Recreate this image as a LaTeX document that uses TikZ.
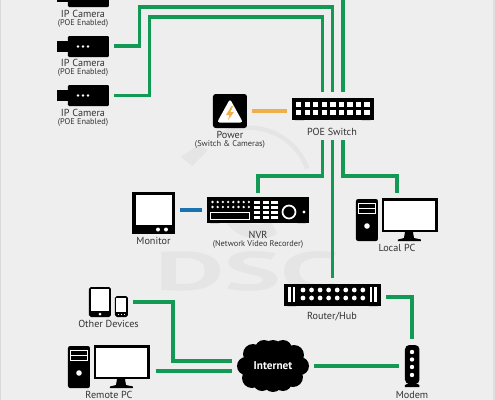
\documentclass[tikz,border=0pt]{standalone}
\usepackage{fontspec}
\setmainfont{PT Sans}
\definecolor{WireGreen}{HTML}{129A55}
\definecolor{WireOrange}{HTML}{F0AE4C}
\definecolor{WireBlue}{HTML}{1B72B0}
\definecolor{PageGrey}{HTML}{EEEEEE}
\definecolor{MarkGrey}{HTML}{E5E5E5}
\definecolor{LabelGrey}{HTML}{333333}
\usetikzlibrary{shapes.geometric, calc}
\tikzset{
  wire/.style={line width=1.85pt, WireGreen},
  label/.style={font=\fontsize{5.8}{6}\selectfont, text=LabelGrey, inner sep=0pt},
  sublabel/.style={font=\fontsize{4.75}{5}\selectfont, text=LabelGrey, inner sep=0pt},
  pics/ipcamera/.style={code={
    \fill[black, rounded corners=0.6pt] (0,0) rectangle (41,21);
    \fill[black] (-11,5) rectangle (0,16);
    \foreach \dotx in {10,15,20}
      \fill[white] (\dotx,10.5) circle (1.4);
  }},
  pics/desktop/.style={code={
    % tower
    \fill[black, rounded corners=1.2pt] (0,0) rectangle (22,42);
    \draw[white, line width=0.4pt] (2.5,4) rectangle (19.5,14) (2.5,9) -- (19.5,9);
    \fill[white] (11,27) circle (2.8);
    % screen and stand
    \fill[black] (26,-1) rectangle (82,33);
    \fill[white] (28.5,2) rectangle (79.5,31);
    \fill[black] (49,33) -- (57,33) -- (58,39) -- (65,40.5) -- (65,42) -- (42,42) -- (42,40.5) -- (48,39) -- cycle;
  }},
}
\begin{document}
\begin{tikzpicture}[x=0.02cm, y=-0.02cm]
  \useasboundingbox (0,0) rectangle (495,400);
  \fill[PageGrey] (0,0) rectangle (495,400);
  \fill[black!15] (0,0) rectangle (1.5,400);
  \fill[black!12] (493.5,0) rectangle (495,400);
  % Watermark
  \begin{scope}[MarkGrey]
    \node[font=\fontsize{31}{31}\selectfont\bfseries, inner sep=0pt, xscale=1.96, text=MarkGrey] (markdsc) at (248,271) {DSC};
    \fill (181,157) -- (198,145) -- (208,150) -- (192,166) -- cycle;
    \draw[line width=8pt] (226,197) arc[start angle=185, end angle=60, radius=32];
    \draw[line width=2.5pt] (218,136) arc[start angle=-120, end angle=-20, radius=62];
  \end{scope}
  % Cameras
  \pic at (68,-14) {ipcamera};
  \pic at (68,36) {ipcamera};
  \pic at (68,85) {ipcamera};
  \node[label] (camlabela) at (83,14) {IP Camera};
  \node[sublabel] (camsuba) at (83,23) {(POE Enabled)};
  \node[label] (camlabelb) at (83,63) {IP Camera};
  \node[sublabel] (camsubb) at (83,72) {(POE Enabled)};
  \node[label] (camlabelc) at (83,113) {IP Camera};
  \node[sublabel] (camsubc) at (83,122) {(POE Enabled)};
  % POE switch
  \fill[black] (292,98) rectangle (374,120);
  \fill[black] (295,120) arc[start angle=180, end angle=360, radius=4.5] -- cycle;
  \fill[black] (362,120) arc[start angle=180, end angle=360, radius=4.5] -- cycle;
  \foreach \i in {0,...,8} {
    \fill[white] ({296+\i*8.55},101.5) rectangle +(5.4,5.4);
    \fill[white] ({296+\i*8.55},109.5) rectangle +(5.4,5.4);
  }
  \node[label] (switchlabel) at (332,132) {POE Switch};
  % Power
  \fill[black, rounded corners=1.5pt] (213,94) rectangle (247,128);
  \fill[white, rounded corners=1.5pt] (230,99) -- (243,122.5) -- (217,122.5) -- cycle;
  \fill[WireOrange] (231.5,106) -- (226,115) -- (229.5,115) -- (228,120) -- (234,112) -- (230.5,112) -- (233,106) -- cycle;
  \node[label] (powerlabel) at (230,135) {Power};
  \node[sublabel] (powersub) at (230,144) {(Switch \& Cameras)};
  % NVR
  \fill[black] (207,197) rectangle (309,223);
  \fill[black] (210.5,223) arc[start angle=180, end angle=360, radius=4.5] -- cycle;
  \fill[black] (297.5,223) arc[start angle=180, end angle=360, radius=4.5] -- cycle;
  \foreach \i in {0,...,7} {
    \fill[white] ({212.5+\i*5.2},202) circle (1.3);
    \fill[white] ({212.5+\i*5.2},207) circle (1.3);
  }
  \draw[white, line width=0.4pt] (210.5,212.5) rectangle (249,219);
  \foreach \i in {0,1,2}
    \foreach \j in {0,1,2,3}
      \fill[white] ({254+\i*8.6},{201+\j*5}) rectangle +(6.5,3.3);
  \draw[white, line width=1pt] (289,212) circle (6.5);
  \fill[white] (304,212) circle (1.6);
  \node[label] (nvrlabel) at (258,235) {NVR};
  \node[sublabel] (nvrsub) at (258,244) {(Network Video Recorder)};
  % Monitor
  \fill[black] (132,192) rectangle (175,234);
  \fill[white] (136,195) rectangle (172,225);
  \fill[white] (158,229.5) circle (2) (166,229.5) circle (2);
  \node[label] (monitorlabel) at (153.5,241) {Monitor};
  % Computers
  \pic at (356,199) {desktop};
  \node[label] (localpclabel) at (397,248) {Local PC};
  \pic at (68,346) {desktop};
  \node[label] (remotepclabel) at (109,395) {Remote PC};
  % Router
  \fill[black] (284,284) rectangle (381,306);
  \fill[black] (287.5,306) arc[start angle=180, end angle=360, radius=4.5] -- cycle;
  \fill[black] (369,306) arc[start angle=180, end angle=360, radius=4.5] -- cycle;
  \foreach \barx in {288.5,293,370,374.5}
    \fill[white] (\barx,287) rectangle +(2.2,15);
  \foreach \i in {0,...,7} {
    \fill[white] ({303+\i*8.55},290) circle (2.4);
    \fill[white] ({303+\i*8.55},298) circle (2.4);
  }
  \node[label] (routerlabel) at (332,317) {Router/Hub};
  % Modem
  \fill[black, rounded corners=2.5pt] (405,345) rectangle (419.5,384);
  \fill[black] (409,383) -- (415.5,383) -- (419.5,385) -- (419.5,387) -- (405,387) -- (405,385) -- cycle;
  \foreach \dy in {352,359.5,367,375}
    \fill[white] (412,\dy) circle (2.2);
  \node[label] (modemlabel) at (412,395) {Modem};
  % Other devices
  \fill[black, rounded corners=1pt] (89,287) rectangle (111,317);
  \fill[white] (91,289) rectangle (109,311);
  \fill[white] (100,314) circle (1.5);
  \fill[black, rounded corners=1pt] (115,296) rectangle (128,317);
  \fill[white] (116.5,298) rectangle (126.5,312);
  \foreach \dotx in {118.5,121.5,124.5}
    \fill[white] (\dotx,314.5) circle (0.7);
  \node[label] (deviceslabel) at (108.5,324) {Other Devices};
  % Internet cloud
  \fill[black] (273,366) ellipse (31 and 19);
  \foreach \cx/\cy/\cr in {246/366/9, 253/354/10, 264/349/9, 273/350/10, 283/349/9, 294/355/10, 300/366/9, 293/377/10, 283/382/9, 273/382/10, 262/382/9, 252/378/10}
    \fill[black] (\cx,\cy) circle (\cr);
  \node[font=\fontsize{6.4}{7}\selectfont\bfseries, text=white, inner sep=0pt] (internet) at (273,366) {Internet};
  % Wire ends
  \coordinate (camoutb) at (114,46);
  \coordinate (camoutc) at (114,95.5);
  \coordinate (inleft) at (322.5,92);
  \coordinate (inmid) at (332.5,92);
  \coordinate (inright) at (343,92);
  \coordinate (uplink) at (343,0);
  \coordinate (outleft) at (322.5,140);
  \coordinate (outmid) at (332.5,140);
  \coordinate (outright) at (343,140);
  \coordinate (nvrtop) at (258,193);
  \coordinate (localtop) at (397,193);
  \coordinate (routertop) at (332.5,278);
  \coordinate (routerright) at (386,297);
  \coordinate (modemtop) at (412,339);
  \coordinate (modemleft) at (399,366);
  \coordinate (cloudright) at (314,366);
  \coordinate (cloudin) at (232,361);
  \coordinate (cloudinb) at (232,371);
  \coordinate (devicesright) at (133,302);
  \coordinate (remoteright) at (156,371);
  % Wires
  \draw[wire] (camoutb) -- (139.5,46) -- (139.5,7) -- (332.5,7) -- (inmid);
  \draw[wire] (camoutc) -- (149.5,95.5) -- (149.5,17) -- (322.5,17) -- (inleft);
  \draw[wire] (uplink) -- (inright);
  \draw[wire] (outleft) -- (322.5,176) -- (258,176) -- (nvrtop);
  \draw[wire] (outmid) -- (routertop);
  \draw[wire] (outright) -- (343,176) -- (397,176) -- (localtop);
  \draw[wire] (routerright) -- (412,297) -- (modemtop);
  \draw[wire] (modemleft) -- (cloudright);
  \draw[wire] (devicesright) -- (173,302) -- (173,361) -- (cloudin);
  \draw[wire] (remoteright) -- (cloudinb);
  \coordinate (powerright) at (252,111);
  \coordinate (switchleft) at (287,111);
  \coordinate (monitorright) at (180,210);
  \coordinate (nvrleft) at (202,210);
  \draw[wire, WireOrange] (powerright) -- (switchleft);
  \draw[wire, WireBlue] (monitorright) -- (nvrleft);
\end{tikzpicture}
\end{document}
